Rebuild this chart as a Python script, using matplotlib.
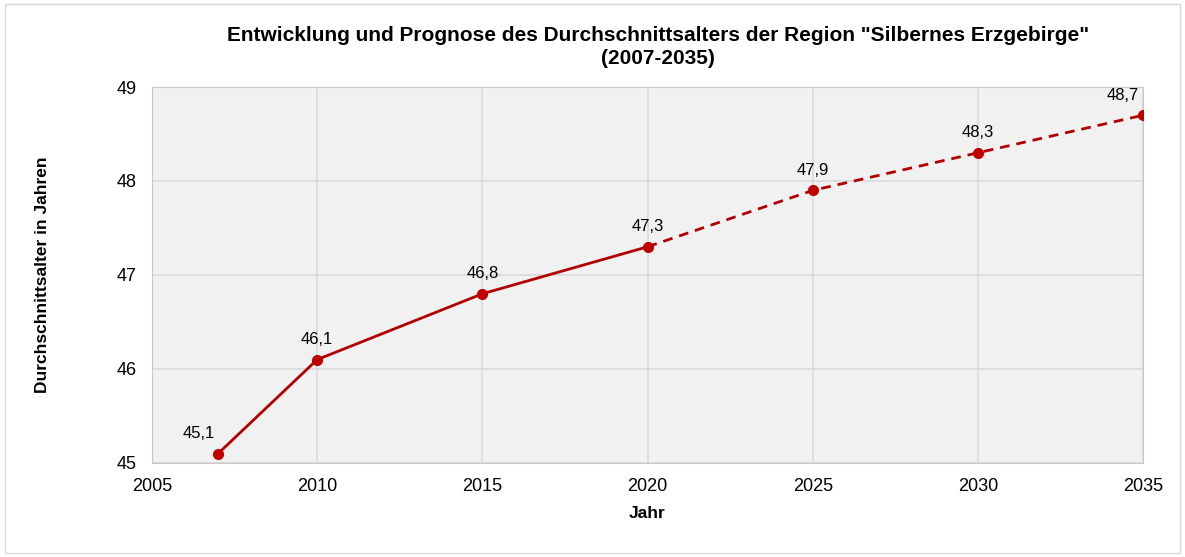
import matplotlib.pyplot as plt
from matplotlib.patches import Rectangle

plt.rcParams['font.family'] = ['Liberation Sans', 'DejaVu Sans']

# Ist-Werte und Prognose
years_actual = [2007, 2010, 2015, 2020]
age_actual = [45.1, 46.1, 46.8, 47.3]
years_forecast = [2020, 2025, 2030, 2035]
age_forecast = [47.3, 47.9, 48.3, 48.7]
x_ticks = [2005, 2010, 2015, 2020, 2025, 2030, 2035]
y_ticks = [45, 46, 47, 48, 49]

line_color = '#b20000'
marker_color = '#c00000'

fig = plt.figure(figsize=(11.85, 5.57), dpi=100)
ax = fig.add_axes([0.1283, 0.1688, 0.8363, 0.675])
ax.set_facecolor('#f1f1f1')

ax.plot(years_actual, age_actual, color=line_color, linewidth=2.0, zorder=3)
ax.plot(years_forecast, age_forecast, color=line_color, linewidth=2.0,
        linestyle=(0, (3.5, 2.5)), zorder=3)
all_years = years_actual + years_forecast[1:]
all_ages = age_actual + age_forecast[1:]
ax.plot(all_years, all_ages, linestyle='none', marker='o', markersize=7,
        color=marker_color, zorder=4)

for x, y in zip(all_years, all_ages):
    ha = 'center'
    dx = 0
    if x == 2007:
        ha, dx = 'right', -2
    elif x == 2035:
        ha, dx = 'right', -3
    ax.annotate(f"{y:.1f}".replace('.', ','), (x, y), xytext=(dx, 9),
                textcoords='offset points', ha=ha, va='bottom', fontsize=12)

ax.set_xlim(2005, 2035)
ax.set_ylim(45, 49)
ax.set_xticks(x_ticks)
ax.set_yticks(y_ticks)
ax.grid(True, color='#d9d9d9', linewidth=1.2)
ax.set_axisbelow(True)
ax.tick_params(length=0, labelsize=13)
ax.tick_params(axis='x', pad=11)
ax.tick_params(axis='y', pad=11)
for s in ax.spines.values():
    s.set_color('#c8c8c8')

ax.set_xlabel('Jahr', fontsize=12.5, fontweight='bold', labelpad=8)
ax.set_ylabel('Durchschnittsalter in Jahren', fontsize=12.5, fontweight='bold', labelpad=48)
fig.text(0.555, 0.916, 'Entwicklung und Prognose des Durchschnittsalters der Region "Silbernes Erzgebirge"\n(2007-2035)',
         ha='center', va='center', fontsize=15, fontweight='bold', linespacing=1.3)

fig.patches.append(Rectangle((0.004, 0.007), 0.992, 0.986, transform=fig.transFigure,
                             fill=False, edgecolor='#d9d9d9', linewidth=1))

fig.savefig('out.png', dpi=100)
